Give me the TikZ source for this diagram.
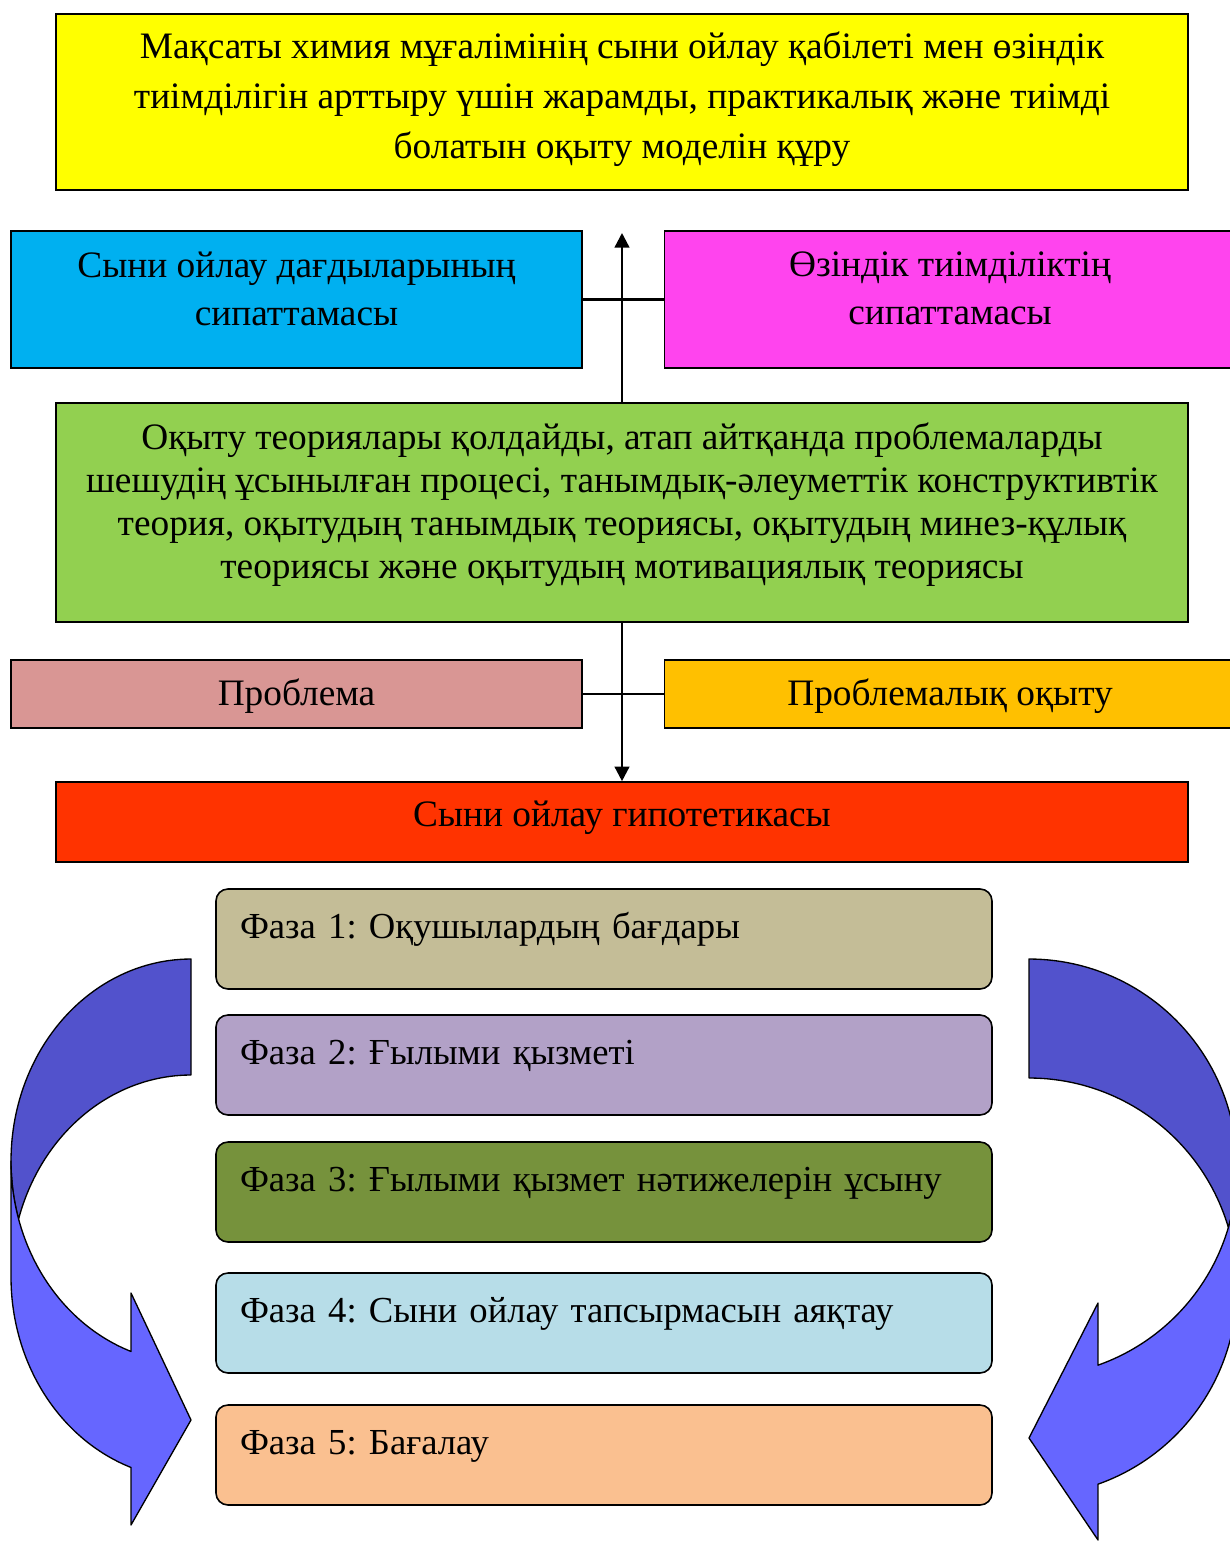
\documentclass[tikz,border=0pt]{standalone}
\usepackage{fontspec}
\setmainfont{Liberation Serif}
\usetikzlibrary{arrows.meta}

\definecolor{cyellow}{RGB}{255,255,0}
\definecolor{cblue}{RGB}{0,176,240}
\definecolor{cmagenta}{RGB}{255,68,238}
\definecolor{cgreen}{RGB}{146,208,80}
\definecolor{cpink}{RGB}{217,150,148}
\definecolor{corange}{RGB}{255,192,0}
\definecolor{cred}{RGB}{255,51,0}
\definecolor{cphaseA}{RGB}{196,189,151}
\definecolor{cphaseB}{RGB}{178,161,199}
\definecolor{cphaseC}{RGB}{118,146,60}
\definecolor{cphaseD}{RGB}{183,221,232}
\definecolor{cphaseE}{RGB}{250,192,144}
\definecolor{arrdark}{RGB}{82,82,204}
\definecolor{arrlight}{RGB}{102,102,255}

% invisible strut that deepens the last line of a text block
\newcommand{\deepline}[1]{\rule[-#1]{0pt}{#1}}

\frenchspacing
\begin{document}
\begin{tikzpicture}[x=0.75pt,y=-0.75pt,
  box/.style={draw=black, line width=1.2pt, inner sep=0pt, align=center,
    font=\fontsize{28pt}{36pt}\selectfont},
  widebox/.style={box, minimum width=849pt},
  sidebox/.style={box, minimum width=428.5pt},
  phasebox/.style={box, rounded corners=9pt, minimum width=582pt, minimum height=75pt,
    text width=546pt, align=left, text height=19pt, text depth=20.5pt,
    font=\fontsize{27.5pt}{36pt}\selectfont},
  link/.style={line width=1.8pt},
  bandedge/.style={draw=black, line width=1pt, line join=round}]
\useasboundingbox (0,0) rectangle (1230,1543);
\clip (0,0) rectangle (1230,1543);

% goal
\node[widebox, minimum height=132pt, fill=cyellow,
  font=\fontsize{28pt}{37.5pt}\selectfont] (goal) at (622,102)
  {Мақсаты химия мұғалімінің сыни ойлау қабілеті мен өзіндік\\
   тиімділігін арттыру үшін жарамды, практикалық және тиімді\\
   болатын оқыту моделін құру\deepline{10.5pt}};

% descriptions
\node[sidebox, minimum height=102.75pt, fill=cblue] (critical) at (296.5,299.5)
  {Сыни ойлау дағдыларының\\сипаттамасы\deepline{16.5pt}};
\node[sidebox, minimum height=102.75pt, fill=cmagenta] (efficacy) at (950,299.5)
  {Өзіндік тиімділіктің\\сипаттамасы\deepline{16.5pt}};

% theories
\node[widebox, minimum height=164.25pt, fill=cgreen,
  font=\fontsize{28pt}{32.25pt}\selectfont] (theory) at (622,512.5)
  {Оқыту теориялары қолдайды, атап айтқанда проблемаларды\\
   шешудің ұсынылған процесі, танымдық-әлеуметтік конструктивтік\\
   теория, оқытудың танымдық теориясы, оқытудың минез-құлық\\
   теориясы және оқытудың мотивациялық теориясы\deepline{18pt}};

% problem
\node[sidebox, minimum height=51pt, fill=cpink, text height=23pt, text depth=6pt]
  (problem) at (296.5,694) {Проблема};
\node[sidebox, minimum height=51pt, fill=corange, text height=23pt, text depth=6pt]
  (problearn) at (950,694) {Проблемалық оқыту};

% hypothesis
\node[widebox, minimum height=60pt, fill=cred, text height=19pt, text depth=12pt]
  (hyp) at (622,822) {Сыни ойлау гипотетикасы};

% phases
\node[phasebox, fill=cphaseA] (ph1) at (604,939)  {Фаза 1: Оқушылардың бағдары};
\node[phasebox, fill=cphaseB] (ph2) at (604,1065) {Фаза 2: Ғылыми қызметі};
\node[phasebox, fill=cphaseC] (ph3) at (604,1192) {Фаза 3: Ғылыми қызмет нәтижелерін ұсыну};
\node[phasebox, fill=cphaseD] (ph4) at (604,1323) {Фаза 4: Сыни ойлау тапсырмасын аяқтау};
\node[phasebox, fill=cphaseE] (ph5) at (604,1455) {Фаза 5: Бағалау};

% connectors
\coordinate (uptip) at (622,233);
\draw[link, -{Triangle[width=11pt,length=11pt]}] (theory.north) -- (uptip);
\draw[link] (critical.east) -- (efficacy.west);
\draw[link, -{Triangle[width=11pt,length=11pt]}] (theory.south) -- (hyp.north);
\draw[link] (problem.east) -- (problearn.west);

% left curved arrow: back band, then front band with head
\filldraw[bandedge, fill=arrdark]
  plot[variable=\t, domain=90:196.7, samples=60] ({191+180*cos(\t)},{1161-202*sin(\t)})
  -- plot[variable=\t, domain=163.3:90, samples=60] ({191+180*cos(\t)},{1277-202*sin(\t)})
  -- cycle;
\filldraw[bandedge, fill=arrlight]
  plot[variable=\t, domain=180:250.53, samples=60] ({191+180*cos(\t)},{1161-202*sin(\t)})
  -- (131,1293) -- (191,1420) -- (131,1525)
  -- plot[variable=\t, domain=250.53:180, samples=60] ({191+180*cos(\t)},{1277-202*sin(\t)})
  -- cycle;

% right curved arrow
\filldraw[bandedge, fill=arrdark]
  plot[variable=\t, domain=90:196.54, samples=60] ({1029-208*cos(\t)},{1168-209*sin(\t)})
  -- plot[variable=\t, domain=163.46:90, samples=60] ({1029-208*cos(\t)},{1287-209*sin(\t)})
  -- cycle;
\filldraw[bandedge, fill=arrlight]
  plot[variable=\t, domain=180:250.63, samples=60] ({1029-208*cos(\t)},{1168-209*sin(\t)})
  -- (1098,1303) -- (1029,1438) -- (1098,1540)
  -- plot[variable=\t, domain=250.63:180, samples=60] ({1029-208*cos(\t)},{1287-209*sin(\t)})
  -- cycle;
\end{tikzpicture}
\end{document}
